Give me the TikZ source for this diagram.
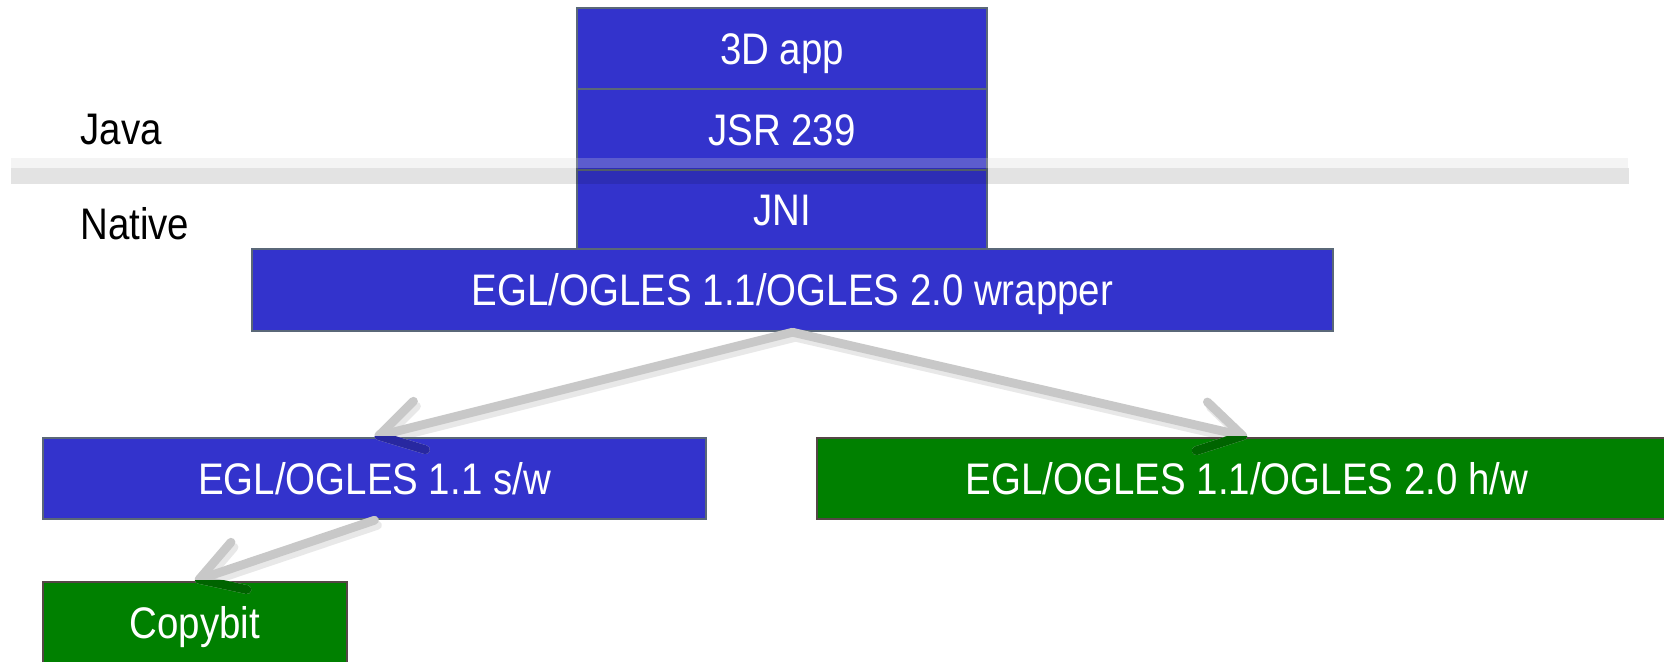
\documentclass[tikz,border=0pt]{standalone}
\usepackage{fontspec}
\setmainfont{Liberation Sans}[FakeStretch=0.87]
\usetikzlibrary{arrows.meta,backgrounds}
\definecolor{boxblue}{RGB}{51,51,204}
\definecolor{boxgreen}{RGB}{0,128,0}
\definecolor{blueline}{RGB}{90,104,120}
\definecolor{greenline}{RGB}{85,70,70}
\definecolor{bandtop}{RGB}{215,215,215}
\definecolor{arrowgray}{RGB}{200,200,200}
\definecolor{shadowgray}{RGB}{232,232,232}
\definecolor{onblue}{RGB}{40,40,160}
\definecolor{ongreen}{RGB}{0,100,0}
\newcommand{\boxfont}{\fontsize{22.1pt}{26pt}\selectfont}
\tikzset{
  layer/.style={draw=blueline, fill=boxblue, line width=1.25pt, text=white,
    inner sep=0pt, font=\boxfont, text height=15.85pt, text depth=0pt},
  hwbox/.style={layer, draw=greenline, fill=boxgreen},
  sidelabel/.style={anchor=west, inner sep=0pt, font=\boxfont, text height=15.85pt, text depth=0pt},
  flow/.style={draw=arrowgray, line width=4.4pt, line cap=round, line join=round,
    -{Straight Barb[length=21pt,width=25pt,round]}},
  flowshadow/.style={flow, draw=shadowgray, transform canvas={shift={(1.5pt,-2.5pt)}}}
}
\begin{document}
\begin{tikzpicture}[x=0.5pt,y=-0.5pt]
\clip (0,0) rectangle (1664,662);
% stack
\node[layer, minimum width=205pt, minimum height=40.5pt] (app) at (782,48.5) {3D app};
\node[layer, minimum width=205pt, minimum height=40.5pt] (jsr) at (782,129.5) {JSR 239};
\node[layer, minimum width=205pt, minimum height=39.5pt] (jni) at (782,209.5) {JNI};
\node[layer, minimum width=540.5pt, minimum height=41pt] (wrap) at (792.5,290) {EGL/OGLES 1.1/OGLES 2.0 wrapper};
\node[layer, minimum width=331.5pt, minimum height=40.5pt] (sw) at (374.5,478.5) {EGL/OGLES 1.1 s/w};
\node[hwbox, minimum width=430pt, minimum height=40.5pt] (hw) at (1247,478.5) {EGL/OGLES 1.1/OGLES 2.0 h/w};
\node[hwbox, minimum width=152pt, minimum height=40.5pt] (copy) at (195,622.5) {Copybit};
% side labels
\node[sidelabel] (java) at (80,129) {Java};
\node[sidelabel] (native) at (80,224) {Native};
% white page and arrow shadows, under the boxes
\begin{pgfonlayer}{background}
  \fill[white] (0,0) rectangle (1664,662);
  \draw[flowshadow] (wrap.south) -- (sw.north);
  \draw[flowshadow] (wrap.south) -- (hw.north);
  \draw[flowshadow] (sw.south) -- (copy.north);
\end{pgfonlayer}
% separator band
\fill[bandtop, opacity=0.25] (11,158) rectangle (1628,168);
\fill[black, opacity=0.11] (11,168) rectangle (1629,184);
% arrows
\draw[flow] (wrap.south) -- (sw.north);
\draw[flow] (wrap.south) -- (hw.north);
\draw[flow] (sw.south) -- (copy.north);
% darkened parts of the arrow heads lying on the boxes
\begin{scope}
  \clip (sw.north west) rectangle (sw.south east);
  \draw[flow, draw=onblue] (wrap.south) -- (sw.north);
\end{scope}
\begin{scope}
  \clip (hw.north west) rectangle (hw.south east);
  \draw[flow, draw=ongreen] (wrap.south) -- (hw.north);
\end{scope}
\begin{scope}
  \clip (copy.north west) rectangle (copy.south east);
  \draw[flow, draw=ongreen] (sw.south) -- (copy.north);
\end{scope}
\end{tikzpicture}
\end{document}
